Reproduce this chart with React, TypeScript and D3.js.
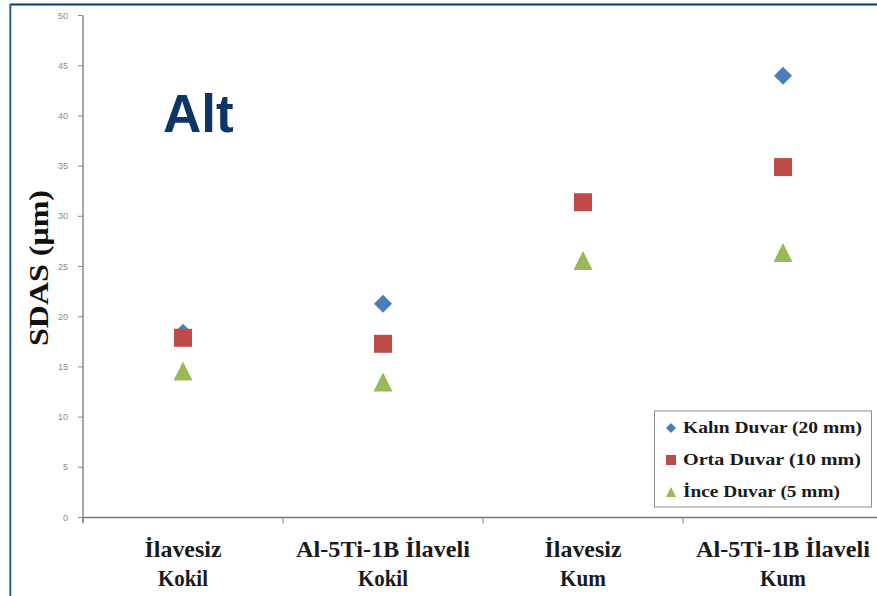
import React from "react";
import * as d3 from "d3";

const categories: string[][] = [
  ["İlavesiz", "Kokil"],
  ["Al-5Ti-1B İlaveli", "Kokil"],
  ["İlavesiz", "Kum"],
  ["Al-5Ti-1B İlaveli", "Kum"],
];
const seriesNames = ["Kalın Duvar (20 mm)", "Orta Duvar (10 mm)", "İnce Duvar (5 mm)"];
const kalin = [18.4, 21.3, 31.4, 44.0];
const orta = [17.9, 17.3, 31.4, 34.9];
const ince = [14.6, 13.5, 25.6, 26.4];
const yTicks = [0, 5, 10, 15, 20, 25, 30, 35, 40, 45, 50];

const colors = ["#4a7ebb", "#be4b48", "#98b954"];

const W = 877;
const H = 596;

const triangleType = {
  draw(ctx: any, size: number) {
    const w = Math.sqrt(size);
    const h = w;
    ctx.moveTo(0, -h / 2);
    ctx.lineTo(w / 2, h / 2);
    ctx.lineTo(-w / 2, h / 2);
    ctx.closePath();
  },
};
const diamondType = {
  draw(ctx: any, size: number) {
    const r = Math.sqrt(size) / 2;
    ctx.moveTo(0, -r);
    ctx.lineTo(r, 0);
    ctx.lineTo(0, r);
    ctx.lineTo(-r, 0);
    ctx.closePath();
  },
};

const labelWidth = (s: string) => {
  if (s.length > 10) return 174;
  if (s === "İlavesiz") return 77;
  if (s === "Kokil") return 50;
  return 46;
};

export default function App() {
  const catKeys = categories.map((c) => c.join(" "));
  const x = d3.scaleBand<string>().domain(catKeys).range([83, 883]).padding(0);
  const y = d3.scaleLinear().domain([0, 50]).range([517.5, 15.5]);
  const cx = (i: number) => (x(catKeys[i]) as number) + x.bandwidth() / 2;

  const symDiamond = d3.symbol().type(diamondType as any).size(18 * 18)();
  const symSquare = d3.symbol().type(d3.symbolSquare).size(18 * 18)();
  const symTri = d3.symbol().type(triangleType as any).size(19 * 19)();
  const legDiamond = d3.symbol().type(diamondType as any).size(10 * 10)();
  const legSquare = d3.symbol().type(d3.symbolSquare).size(10 * 10)();
  const legTri = d3.symbol().type(triangleType as any).size(10 * 10)();

  const series = [
    { vals: kalin, path: symDiamond, leg: legDiamond },
    { vals: orta, path: symSquare, leg: legSquare },
    { vals: ince, path: symTri, leg: legTri },
  ];

  const legendWidths = [179, 178, 157];
  const xBoundaries = [0, 1, 2, 3].map((i) => x(catKeys[i]) as number);

  return (
    <svg
      width={W}
      height={H}
      style={{ position: "absolute", left: 0, top: 0, background: "#fff" }}
    >
      <rect x={0} y={0} width={W} height={H} fill="#fff" />
      {/* frame */}
      <line x1={10} y1={4.5} x2={W} y2={4.5} stroke="#0b3a6d" strokeWidth={2.2} />
      <line x1={10.3} y1={4} x2={10.3} y2={H} stroke="#2b5b9b" strokeWidth={2} />

      {/* Alt label */}
      <text
        x={163}
        y={132}
        fontFamily="'Liberation Sans', Arial, sans-serif"
        fontWeight="bold"
        fontSize={53}
        fill="#0e3567"
      >
        Alt
      </text>

      {/* y axis */}
      <line x1={83} y1={y(50)} x2={83} y2={y(0) + 5} stroke="#8a8a8a" strokeWidth={1.5} />
      {yTicks.map((t) => (
        <g key={t}>
          <line x1={78} y1={y(t)} x2={83} y2={y(t)} stroke="#8a8a8a" strokeWidth={1} />
          <text
            x={68}
            y={y(t) + 3}
            textAnchor="end"
            fontFamily="'Liberation Sans', Arial, sans-serif"
            fontSize={9}
            fill="#8a8a8a"
          >
            {t}
          </text>
        </g>
      ))}

      {/* x axis */}
      <line x1={83} y1={y(0)} x2={W} y2={y(0)} stroke="#7a7a7a" strokeWidth={1.5} />
      {xBoundaries.map((b, i) => (
        <line key={i} x1={b} y1={y(0)} x2={b} y2={y(0) + 6} stroke="#7a7a7a" strokeWidth={1} />
      ))}

      {/* y title */}
      <text
        transform={`translate(48, 268) rotate(-90)`}
        textAnchor="middle"
        fontFamily="'Liberation Serif', 'Times New Roman', serif"
        fontWeight="bold"
        fontSize={27}
        textLength={156}
        lengthAdjust="spacingAndGlyphs"
        fill="#111"
      >
        SDAS (μm)
      </text>

      {/* x labels */}
      {categories.map((c, i) => (
        <g key={i}>
          {c.map((line, li) => (
            <text
              key={li}
              x={cx(i)}
              y={557 + li * 29}
              textAnchor="middle"
              fontFamily="'Liberation Serif', 'Times New Roman', serif"
              fontWeight="bold"
              fontSize={23}
              textLength={labelWidth(line)}
              lengthAdjust="spacingAndGlyphs"
              fill="#1a1a1a"
            >
              {line}
            </text>
          ))}
        </g>
      ))}

      {/* markers */}
      {series.map((s, si) => (
        <g key={si}>
          {s.vals.map((v, i) => (
            <path
              key={i}
              d={s.path as string}
              transform={`translate(${cx(i)},${y(v)})`}
              fill={colors[si]}
            />
          ))}
        </g>
      ))}

      {/* legend */}
      <rect x={654.5} y={411} width={217} height={96} fill="#fff" stroke="#8c8c8c" strokeWidth={1} />
      {seriesNames.map((n, i) => (
        <g key={n}>
          <path
            d={series[i].leg as string}
            transform={`translate(671,${428 + i * 32})`}
            fill={colors[i]}
          />
          <text
            x={683}
            y={433 + i * 32}
            fontFamily="'Liberation Serif', 'Times New Roman', serif"
            fontWeight="bold"
            fontSize={16}
            textLength={legendWidths[i]}
            lengthAdjust="spacingAndGlyphs"
            fill="#1a1a1a"
          >
            {n}
          </text>
        </g>
      ))}
    </svg>
  );
}
